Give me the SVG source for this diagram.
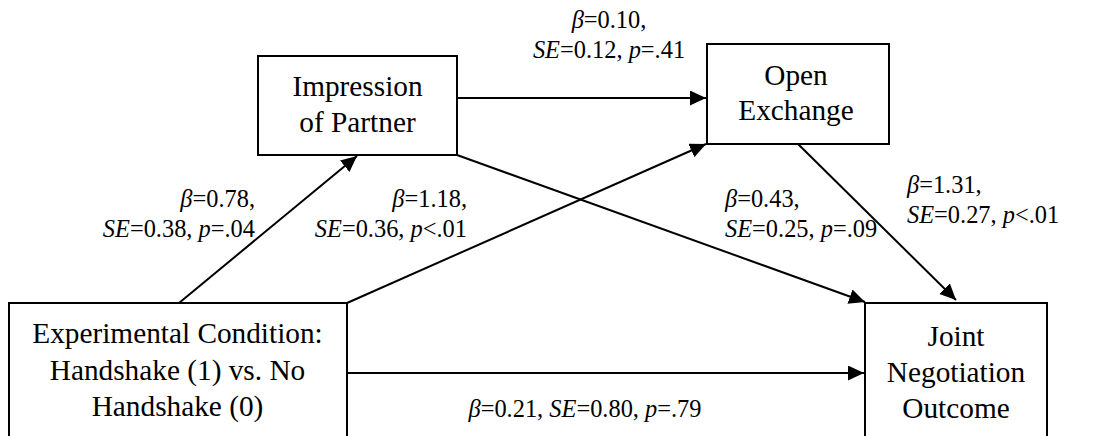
<svg xmlns="http://www.w3.org/2000/svg" width="1106" height="436" viewBox="0 0 1106 436">
<style>
.box{fill:#fff;stroke:#000;stroke-width:2}
.nt{font-family:'Liberation Serif',serif;font-size:29.3px;fill:#000;text-anchor:middle}
.lb{font-family:'Liberation Serif',serif;font-size:24.4px;fill:#000}
.i{font-style:italic}
.ln{stroke:#000;stroke-width:2;fill:none;marker-end:url(#ah)}
</style>
<defs>
<marker id="ah" markerUnits="userSpaceOnUse" markerWidth="16" markerHeight="16" refX="16" refY="7.5" orient="auto">
<path d="M0,0 L16,7.5 L0,15 z" fill="#000"/>
</marker>
</defs>
<rect width="1106" height="436" fill="#fff"/>
<g id="connectors">
<line class="ln" x1="457" y1="98" x2="706" y2="98"/>
<line class="ln" x1="179" y1="303" x2="357" y2="156"/>
<line class="ln" x1="347" y1="303" x2="706" y2="144"/>
<line class="ln" x1="457" y1="155" x2="865" y2="302"/>
<line class="ln" x1="798" y1="144" x2="956" y2="300"/>
<line class="ln" x1="347" y1="373" x2="864" y2="373"/>
</g>
<g id="impression">
<rect class="box" x="258" y="56" width="199" height="99"/>
<text class="nt" x="357.5" y="96">Impression</text>
<text class="nt" x="357.5" y="131.5">of Partner</text>
</g>
<g id="open-exchange">
<rect class="box" x="707" y="44" width="182" height="100"/>
<text class="nt" x="796" y="85">Open</text>
<text class="nt" x="796" y="120">Exchange</text>
</g>
<g id="experimental">
<rect class="box" x="9" y="303" width="338" height="140"/>
<text class="nt" x="177.5" y="342.5">Experimental Condition:</text>
<text class="nt" x="177.5" y="379.5">Handshake (1) vs. No</text>
<text class="nt" x="177.5" y="416">Handshake (0)</text>
</g>
<g id="joint">
<rect class="box" x="865" y="303" width="182" height="140"/>
<text class="nt" x="956" y="345.5">Joint</text>
<text class="nt" x="956" y="381.5">Negotiation</text>
<text class="nt" x="956" y="418">Outcome</text>
</g>
<g id="labels">
<text class="lb" x="609" y="28" text-anchor="middle"><tspan class="i">β</tspan>=0.10,</text>
<text class="lb" x="609" y="58" text-anchor="middle"><tspan class="i">SE</tspan>=0.12, <tspan class="i">p</tspan>=.41</text>
<text class="lb" x="255" y="206.5" text-anchor="end"><tspan class="i">β</tspan>=0.78,</text>
<text class="lb" x="255" y="236.5" text-anchor="end"><tspan class="i">SE</tspan>=0.38, <tspan class="i">p</tspan>=.04</text>
<text class="lb" x="467" y="206.5" text-anchor="end"><tspan class="i">β</tspan>=1.18,</text>
<text class="lb" x="467" y="236.5" text-anchor="end"><tspan class="i">SE</tspan>=0.36, <tspan class="i">p</tspan>&lt;.01</text>
<text class="lb" x="725" y="206.5"><tspan class="i">β</tspan>=0.43,</text>
<text class="lb" x="725" y="236.5"><tspan class="i">SE</tspan>=0.25, <tspan class="i">p</tspan>=.09</text>
<text class="lb" x="907" y="193"><tspan class="i">β</tspan>=1.31,</text>
<text class="lb" x="907" y="223"><tspan class="i">SE</tspan>=0.27, <tspan class="i">p</tspan>&lt;.01</text>
<text class="lb" x="585" y="417" text-anchor="middle"><tspan class="i">β</tspan>=0.21, <tspan class="i">SE</tspan>=0.80, <tspan class="i">p</tspan>=.79</text>
</g>
</svg>
